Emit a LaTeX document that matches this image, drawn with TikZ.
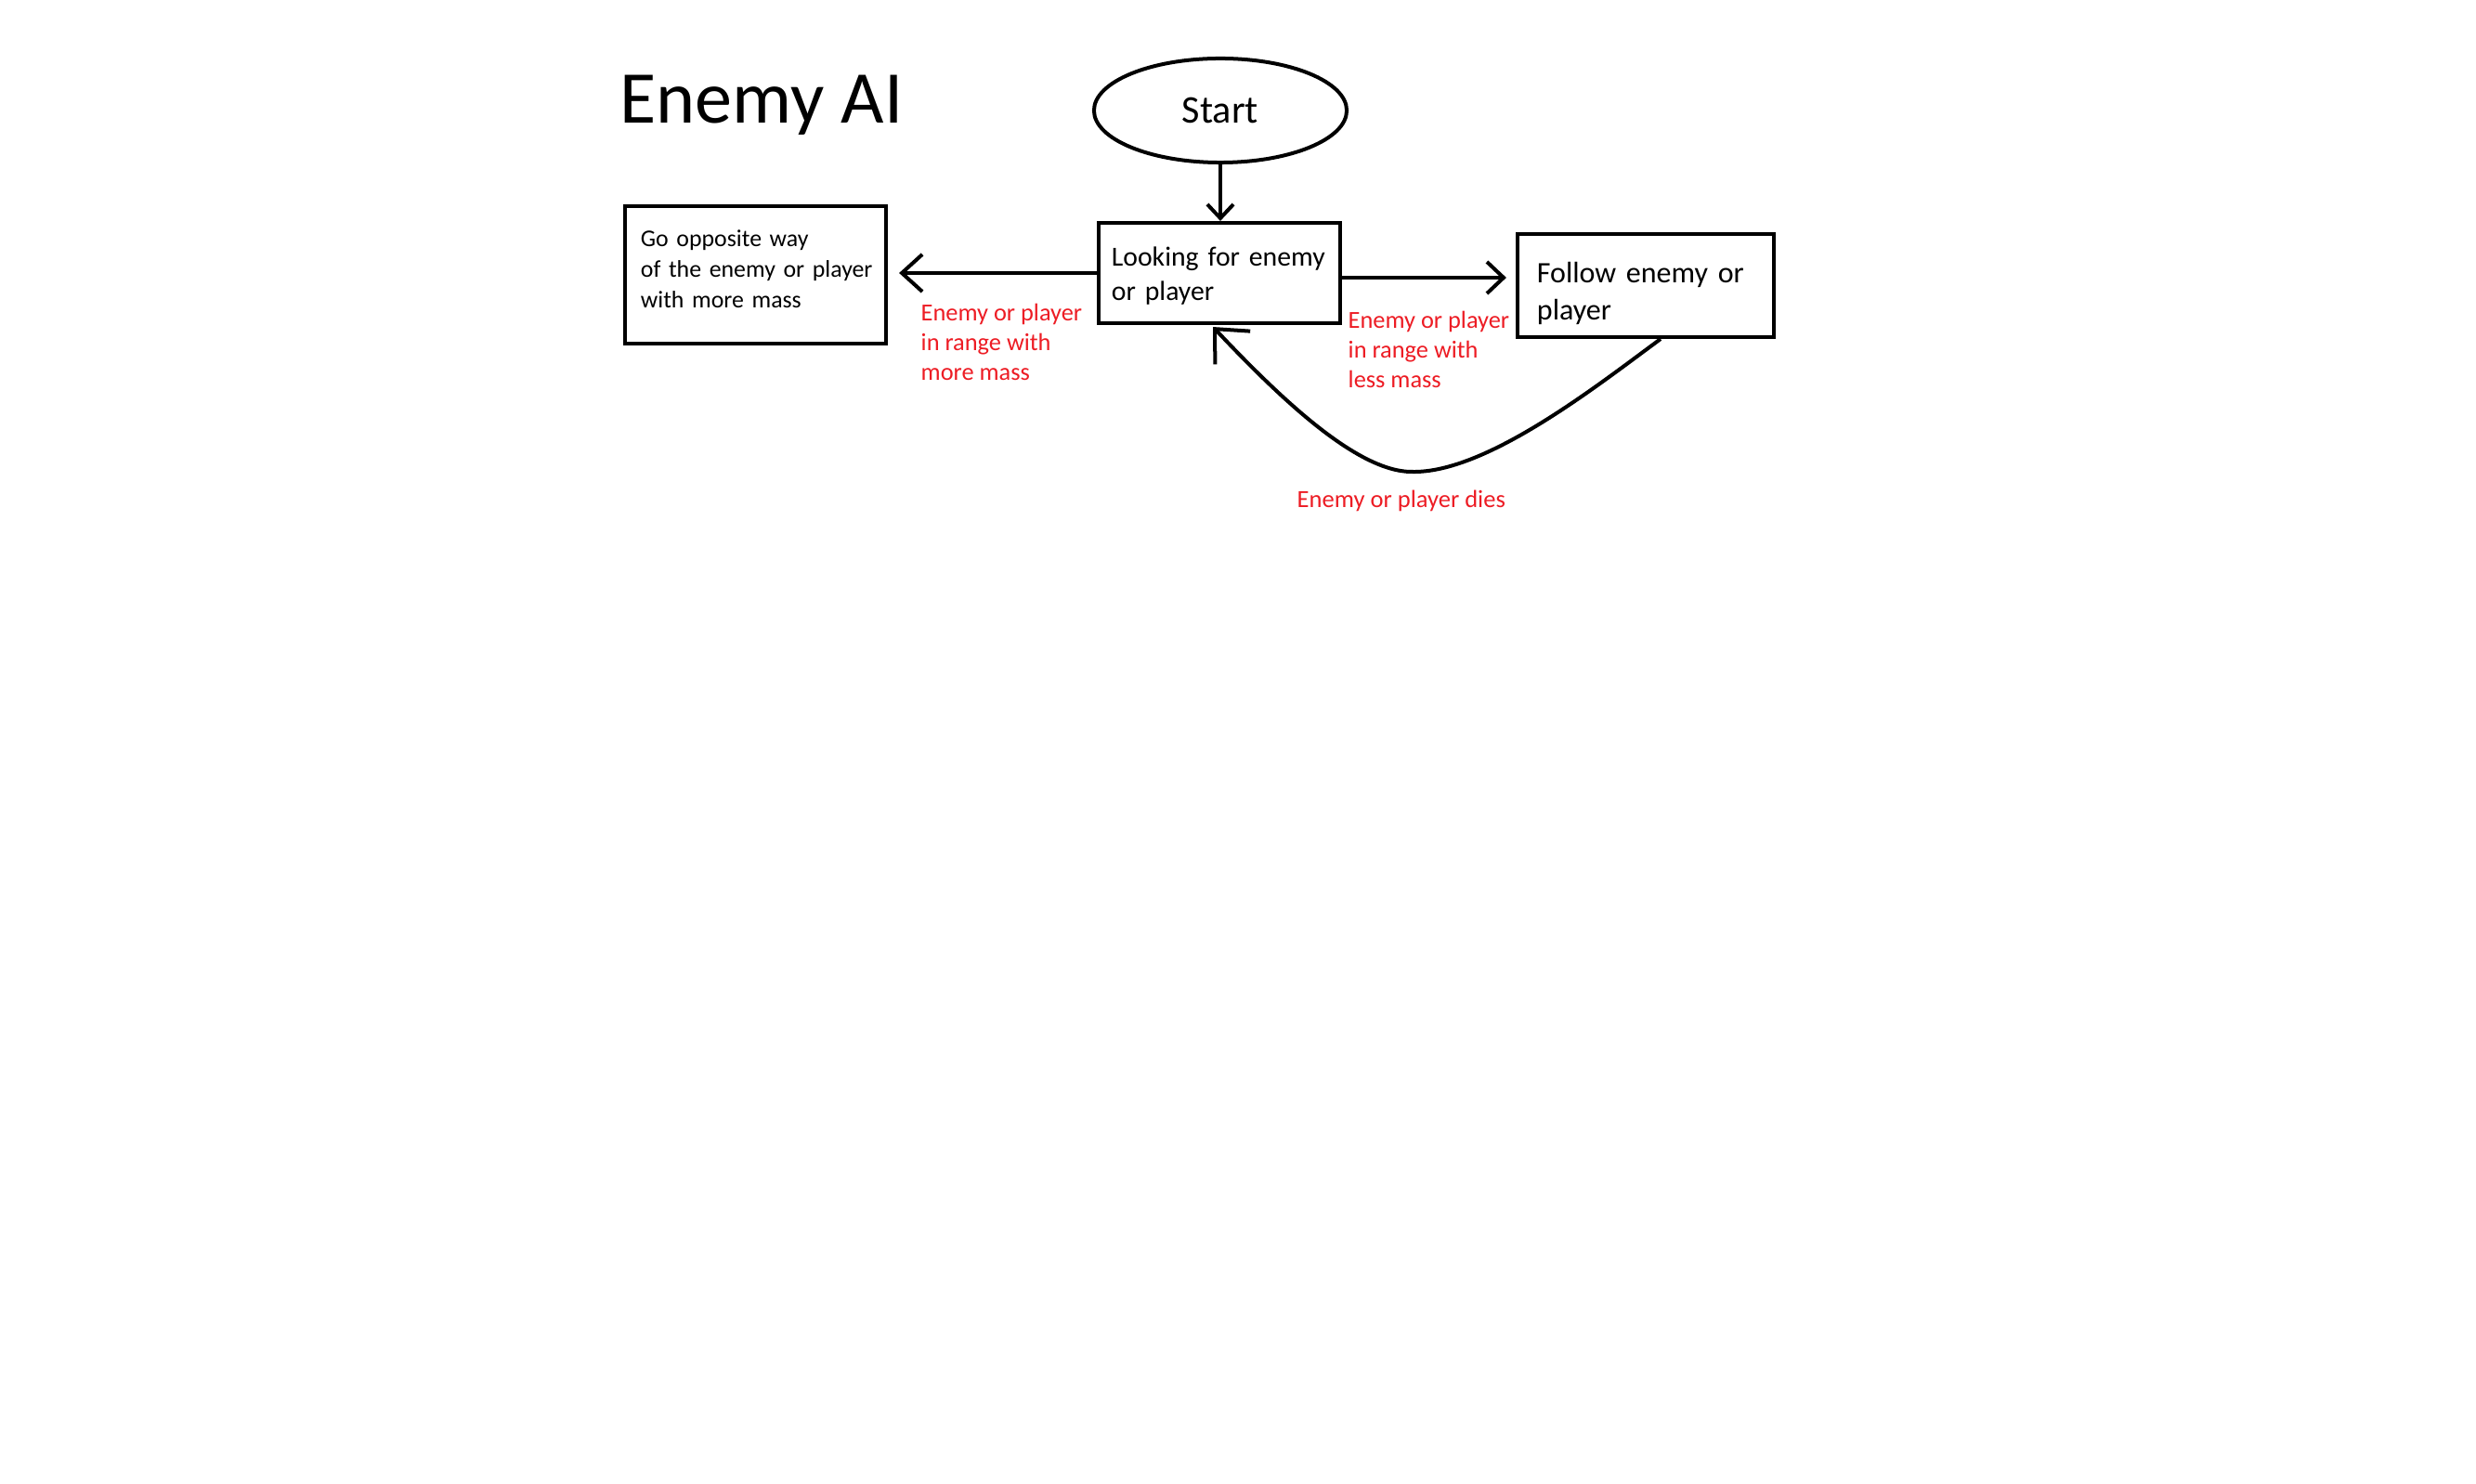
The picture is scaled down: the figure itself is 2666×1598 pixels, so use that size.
\documentclass[tikz,border=0pt]{standalone}
\usepackage{fontspec}
\setmainfont{Carlito}
\usetikzlibrary{shapes.geometric,arrows.meta,calc}
\definecolor{paintred}{RGB}{237,28,36}
\newcommand{\toppad}[1]{\rule{0pt}{\dimexpr\fontcharht\font`l+#1\relax}}
\begin{document}
\begin{tikzpicture}[x=0.01cm,y=-0.01cm,
  box/.style={draw, line width=0.04cm, rectangle, align=left, inner ysep=0pt},
  conn/.style={draw, line width=0.04cm},
  redlabel/.style={text=paintred, align=left, inner sep=0pt, anchor=north west,
    font=\fontsize{7.5pt}{9.2pt}\selectfont}]
\fill[white] (0,0) rectangle (2666,1598);
\useasboundingbox (0,0) rectangle (2666,1598);

\node[anchor=base west, inner sep=0pt, font=\fontsize{22.8pt}{26pt}\selectfont] (title) at (667,133) {Enemy AI};

\node[draw, ellipse, line width=0.04cm, minimum width=2.72cm, minimum height=1.12cm, inner sep=0pt,
  font=\fontsize{12pt}{14pt}\selectfont] (start) at (1314,119) {Start};

\node[box, minimum width=2.60cm, minimum height=1.08cm, inner xsep=0.14cm, text width=2.32cm,
  font=\fontsize{8.45pt}{10.5pt}\selectfont] (looking) at (1313,294) {\toppad{1.9pt}\mbox{Looking for enemy}\\or player};

\node[box, minimum width=2.81cm, minimum height=1.48cm, inner xsep=0.17cm, text width=2.47cm,
  font=\fontsize{7.35pt}{9.4pt}\selectfont] (go) at (813.5,296) {\mbox{Go opposite way}\\\mbox{of the enemy or player}\\\mbox{with more mass}\rule[-3.5pt]{0pt}{0pt}};

\node[box, minimum width=2.76cm, minimum height=1.11cm, inner xsep=0.21cm, text width=2.34cm,
  font=\fontsize{9.1pt}{11.5pt}\selectfont] (follow) at (1772,307.5) {\toppad{4.7pt}\mbox{Follow enemy or}\\player};

\node[redlabel] (lblmore) at (991,326) {Enemy or player\\in range with\\more mass};
\node[redlabel] (lblless) at (1451,334) {Enemy or player\\in range with\\less mass};
\node[text=paintred, anchor=base west, inner sep=0pt, font=\fontsize{7.55pt}{9pt}\selectfont] (lbldies) at (1396,547) {Enemy or player dies};

% connectors
\draw[conn, -{Straight Barb[length=0.15cm,width=0.28cm]}] (start.south) -- (start.south |- looking.north);
\draw[conn, shorten >=0.12cm, -{Straight Barb[length=0.22cm,width=0.40cm]}] (looking.west) -- (looking.west -| go.east);
\coordinate (r1) at ([yshift=-0.05cm]looking.east);
\draw[conn, shorten >=0.1cm, -{Straight Barb[length=0.18cm,width=0.34cm]}] (r1) -- (r1 -| follow.west);
\coordinate (fstart) at ([xshift=0.16cm]follow.south);
\coordinate (dip) at (1520,508);
\coordinate (ltip) at ([xshift=-0.07cm,yshift=-0.02cm]looking.south);
\draw[conn, -{Straight Barb[length=0.28cm,width=0.52cm]}] (fstart) .. controls (1720,415) and (1600,510) .. (dip) .. controls (1460,508) and (1375,425) .. (ltip);
\end{tikzpicture}
\end{document}
